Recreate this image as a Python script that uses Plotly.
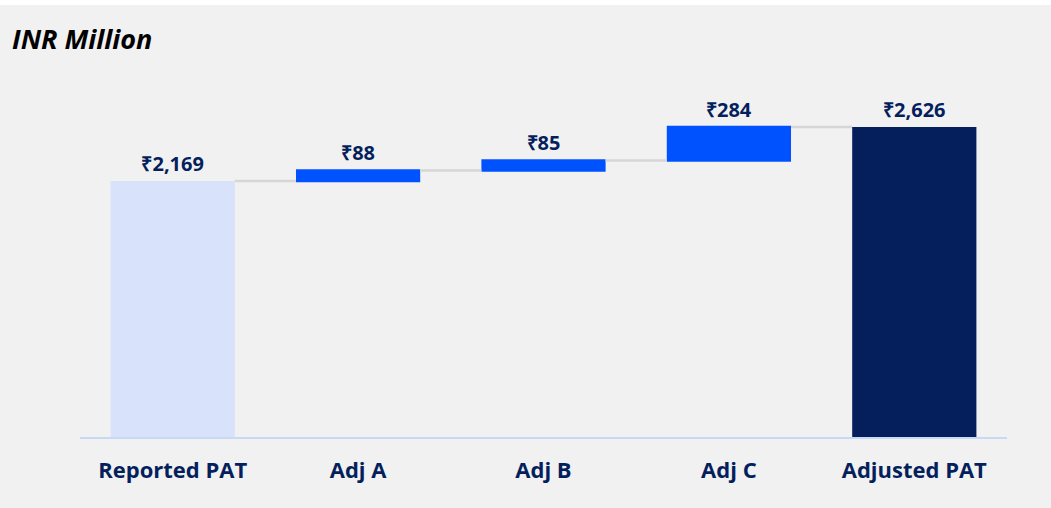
import plotly.graph_objects as go

categories = ["Reported PAT", "Adj A", "Adj B", "Adj C", "Adjusted PAT"]
values = [2169, 88, 85, 284, 2626]
measures = ["absolute", "relative", "relative", "relative", "total"]
labels = ["₹2,169", "₹88", "₹85", "₹284", "₹2,626"]
total_categories = ["Reported PAT", "Adjusted PAT"]
total_values = [2169, 2626]

NAVY = "#041f5c"
BLUE = "#0052ff"
LIGHT = "#d8e3fb"
BG = "#f1f1f1"
FONT = "Open Sans"

W, H = 1051, 508
ml, mr, mt, mb = 80, 44, 60, 71
plot_h = H - mt - mb
plot_w = W - ml - mr
ymax = 2169 / 256 * plot_h

fig = go.Figure()
fig.add_trace(go.Waterfall(
    x=categories, y=values, measure=measures,
    text=["<b>%s</b>" % t for t in labels], textposition="outside", cliponaxis=False,
    textfont=dict(family=FONT, size=20, color=NAVY),
    increasing=dict(marker=dict(color=BLUE)),
    decreasing=dict(marker=dict(color=BLUE)),
    totals=dict(marker=dict(color="rgba(0,0,0,0)")),
    connector=dict(line=dict(color="#d6d6d6", width=2.5)),
    hoverinfo="skip",
))
fig.add_trace(go.Bar(
    x=total_categories, y=total_values,
    marker=dict(color=[LIGHT, NAVY], line=dict(width=0)),
    hoverinfo="skip",
))

fig.update_layout(
    width=W, height=H,
    margin=dict(l=ml, r=mr, t=mt, b=mb),
    paper_bgcolor=BG, plot_bgcolor=BG,
    showlegend=False,
    bargap=0.33, waterfallgap=0.33,
    title=dict(text="<b><i>INR Million</i></b>", x=12 / W, xanchor="left",
               y=1 - 40 / H, yanchor="middle", yref="container", xref="container",
               font=dict(family=FONT, size=27, color="#000000")),
    font=dict(family=FONT),
)
fig.update_xaxes(
    categoryorder="array", categoryarray=categories,
    showgrid=False, showline=True, linecolor="#c8d9f8", linewidth=2,
    ticks="outside", ticklen=13, tickcolor="rgba(0,0,0,0)",
    tickfont=dict(family=FONT, size=22, color=NAVY, weight="bold"),
)
fig.update_yaxes(range=[0, ymax], visible=False, showgrid=False, zeroline=False)

# white strip at the very top of the page
fig.add_shape(type="rect", xref="paper", yref="paper",
              x0=-ml / plot_w, x1=(W - ml) / plot_w,
              y0=(H - mb - 5) / plot_h, y1=(H - mb) / plot_h + 0.01,
              fillcolor="white", line=dict(width=0), layer="below")

fig.write_html("out.html")
